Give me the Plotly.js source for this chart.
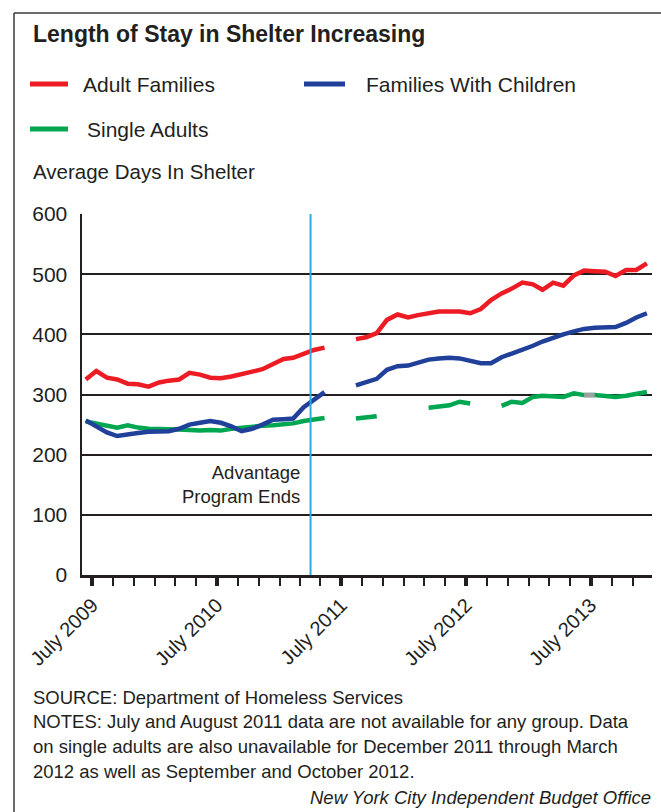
<!DOCTYPE html>
<html>
<head>
<meta charset="utf-8">
<script src="https://cdn.plot.ly/plotly-3.0.1.min.js"></script>
<style>
  html, body { margin: 0; padding: 0; background: #ffffff; }
  #chart { width: 661px; height: 812px; }
</style>
</head>
<body>
<div id="chart"></div>
<script>
// Monthly averages, July 2009 through January 2014 (null = not available)
const months = [
  '2009-07','2009-08','2009-09','2009-10','2009-11','2009-12',
  '2010-01','2010-02','2010-03','2010-04','2010-05','2010-06',
  '2010-07','2010-08','2010-09','2010-10','2010-11','2010-12',
  '2011-01','2011-02','2011-03','2011-04','2011-05','2011-06',
  '2011-07','2011-08','2011-09','2011-10','2011-11','2011-12',
  '2012-01','2012-02','2012-03','2012-04','2012-05','2012-06',
  '2012-07','2012-08','2012-09','2012-10','2012-11','2012-12',
  '2013-01','2013-02','2013-03','2013-04','2013-05','2013-06',
  '2013-07','2013-08','2013-09','2013-10','2013-11','2013-12',
  '2014-01'
];

const adultFamilies = [
  325, 339, 328, 325, 318, 317,
  313, 320, 323, 325, 336, 333,
  328, 327, 330, 333, 338, 342,
  351, 359, 361, 367, 374, 378,
  null, null, 392, 395, 402, 424,
  433, 428, 432, 436, 438, 438,
  438, 435, 442, 457, 468, 476,
  486, 483, 474, 486, 481, 498,
  506, 505, 504, 497, 507, 507,
  518
];

const familiesWithChildren = [
  257, 247, 237, 231, 234, 236,
  238, 238, 239, 243, 250, 253,
  256, 253, 247, 239, 243, 250,
  258, 259, 260, 279, 292, 304,
  null, null, 315, 321, 326, 341,
  347, 348, 353, 358, 360, 361,
  360, 356, 352, 352, 362, 368,
  374, 381, 388, 395, 400, 405,
  409, 411, 411, 412, 419, 428,
  435
];

const singleAdults = [
  255, 252, 248, 245, 249, 245,
  243, 243, 242, 242, 241, 240,
  241, 240, 243, 245, 246, 248,
  249, 251, 252, 256, 259, 261,
  null, null, 260, 262, 264, null,
  null, null, null, 278, 280, 282,
  288, 285, null, null, 281, 288,
  286, 296, 298, 297, 296, 302,
  299, 299, 297, 296, 298, 301,
  304
];

const seriesNames = ['Adult Families', 'Families With Children', 'Single Adults'];
const yTicks = [0, 100, 200, 300, 400, 500, 600];
const programEnd = '2011-04-21';

const INK = '#231F20';
const RED = '#ED1C24';
const BLUE = '#21409A';
const GREEN = '#00A650';
const SKY = '#29ABE2';

// plot area in page pixels
const L = 82, R = 652, T = 214, B = 575;
const px = v => (v - L) / (R - L);
const py = v => (B - v) / (B - T);

const FONT = 'Liberation Sans, Arial, sans-serif';

function series(y, color, name) {
  return {
    type: 'scatter', mode: 'lines', x: months, y: y, name: name,
    connectgaps: false, showlegend: false, hoverinfo: 'skip',
    line: { color: color, width: 4.5 }
  };
}

// the short grey stretch of the single-adult line, July to August 2013
const gi = months.indexOf('2013-07');
const greySpan = {
  type: 'scatter', mode: 'lines',
  x: months.slice(gi, gi + 2), y: singleAdults.slice(gi, gi + 2),
  showlegend: false, hoverinfo: 'skip',
  line: { color: '#9D9FA2', width: 4.5 }
};

const traces = [
  series(singleAdults, GREEN, seriesNames[2]),
  greySpan,
  series(familiesWithChildren, BLUE, seriesNames[1]),
  series(adultFamilies, RED, seriesNames[0])
];

function text(t, x, y, opts) {
  return Object.assign({
    text: t, xref: 'paper', yref: 'paper', x: px(x), y: py(y),
    xanchor: 'left', yanchor: 'middle', showarrow: false,
    font: { family: FONT, size: 20, color: INK }
  }, opts || {});
}

function legendLine(x0, x1, y, color) {
  return {
    type: 'line', xref: 'paper', yref: 'paper',
    x0: px(x0), x1: px(x1), y0: py(y), y1: py(y),
    line: { color: color, width: 5 }
  };
}

const layout = {
  width: 661, height: 812,
  margin: { l: L, r: 661 - R, t: T, b: 812 - B },
  paper_bgcolor: '#ffffff', plot_bgcolor: '#ffffff',
  font: { family: FONT, color: INK },
  showlegend: false,
  xaxis: {
    type: 'date',
    range: ['2009-06-20', '2014-01-16'],
    tickmode: 'linear', tick0: '2009-07-20', dtick: 'M12',
    tickformat: '%B %Y', tickangle: -45,
    tickfont: { family: FONT, size: 20, color: INK },
    ticks: 'outside', ticklen: 8, tickwidth: 4, tickcolor: INK,
    minor: { tick0: '2009-07-20', dtick: 'M2', ticks: 'outside', ticklen: 8, tickwidth: 2, tickcolor: INK, showgrid: false },
    showgrid: false, zeroline: false,
    showline: true, linecolor: INK, linewidth: 2.5
  },
  yaxis: {
    range: [0, 600], tickmode: 'array', tickvals: yTicks, ticktext: yTicks.map(String),
    tickfont: { family: FONT, size: 21, color: INK },
    ticks: '', ticklabelstandoff: 8,
    showgrid: true, gridcolor: INK, gridwidth: 2,
    zeroline: false, showline: true, linecolor: INK, linewidth: 2.5
  },
  shapes: [
    { type: 'line', xref: 'x', yref: 'paper', x0: programEnd, x1: programEnd, y0: 0, y1: 1,
      line: { color: SKY, width: 2 } },
    legendLine(30, 68, 84, RED),
    legendLine(304, 345, 84, BLUE),
    legendLine(30, 68, 129, GREEN),
    // frame
    { type: 'line', xref: 'paper', yref: 'paper', x0: px(14), x1: px(661), y0: py(13), y1: py(13),
      line: { color: '#3a3a3a', width: 1.5 } },
    { type: 'line', xref: 'paper', yref: 'paper', x0: px(14), x1: px(14), y0: py(13), y1: py(812),
      line: { color: '#3a3a3a', width: 1.5 } }
  ],
  annotations: [
    text('<b>Length of Stay in Shelter Increasing</b>', 31, 34, { font: { family: FONT, size: 23, color: INK } }),
    text(seriesNames[0], 81, 84, { font: { family: FONT, size: 21, color: INK } }),
    text(seriesNames[1], 364, 84, { font: { family: FONT, size: 21, color: INK } }),
    text(seriesNames[2], 85, 129, { font: { family: FONT, size: 21, color: INK } }),
    text('Average Days In Shelter', 31, 171, { font: { family: FONT, size: 20.5, color: INK } }),
    text('Advantage<br>Program Ends', 302, 484, { xanchor: 'right', align: 'right',
      font: { family: FONT, size: 18.5, color: INK } }),
    text('SOURCE: Department of Homeless Services', 31, 697, { font: { family: FONT, size: 18.5, color: INK } }),
    text('NOTES: July and August 2011 data are not available for any group. Data', 31, 721, { font: { family: FONT, size: 18.5, color: INK } }),
    text('on single adults are also unavailable for December 2011 through March', 31, 746, { font: { family: FONT, size: 18.5, color: INK } }),
    text('2012 as well as September and October 2012.', 31, 771, { font: { family: FONT, size: 18.5, color: INK } }),
    text('<i>New York City Independent Budget Office</i>', 653, 797, { xanchor: 'right',
      font: { family: FONT, size: 18.5, color: INK } })
  ]
};

Plotly.newPlot('chart', traces, layout, { displayModeBar: false, staticPlot: true });
</script>
</body>
</html>
